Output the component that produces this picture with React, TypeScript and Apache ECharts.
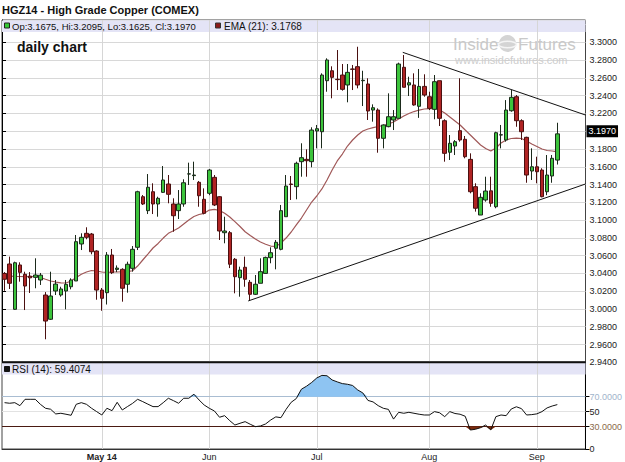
import React, { useEffect, useRef } from 'react';
import * as echarts from 'echarts';

// ---------- data ----------
const opens = [
  3.0400, 3.0506, 2.9996, 3.0495, 3.0390, 3.0370, 3.0356, 3.0326, 3.0157, 2.9884,
  3.0202, 3.0157, 3.0202, 3.0250, 3.0315, 3.0731, 3.0851, 3.0843, 3.0652, 3.0213,
  3.0183, 3.0607, 3.0445, 3.0446, 3.0278, 3.0457, 3.0694, 3.1263, 3.1106, 3.1319,
  3.1181, 3.1312, 3.1406, 3.1181, 3.1106, 3.1181, 3.1518, 3.1500, 3.1425, 3.1234,
  3.1301, 3.1481, 3.1263, 3.0858, 3.0858, 3.0559, 3.0352, 3.0469, 3.0300, 3.0165,
  3.0289, 3.0400, 3.0577, 3.0683, 3.0671, 3.1038, 3.1406, 3.1376, 3.1657, 3.1683,
  3.1657, 3.2002, 3.1994, 3.2568, 3.2680, 3.2584, 3.2632, 3.2520, 3.2700, 3.2726,
  3.2568, 3.2531, 3.2238, 3.2238, 3.1920, 3.2051, 3.2126, 3.2145, 3.2719, 3.2520,
  3.2520, 3.2280, 3.2504, 3.2388, 3.2246, 3.2568, 3.2118, 3.1763, 3.1833, 3.2006,
  3.1909, 3.1683, 3.1376, 3.1057, 3.1226, 3.1329, 3.1150, 3.1957, 3.1901, 3.2230,
  3.2388, 3.2118, 3.1931, 3.1552, 3.1600, 3.1563, 3.1319, 3.1496, 3.1675,
];
const highs = [
  3.0415, 3.0589, 3.0532, 3.0525, 3.0419, 3.0415, 3.0570, 3.0405, 3.0190, 3.0419,
  3.0326, 3.0250, 3.0326, 3.0345, 3.0832, 3.0851, 3.0919, 3.0855, 3.0660, 3.0236,
  3.0640, 3.0675, 3.0490, 3.0458, 3.0532, 3.0708, 3.1330, 3.1282, 3.1518, 3.1414,
  3.1263, 3.1608, 3.1507, 3.1245, 3.1338, 3.1459, 3.1646, 3.1657, 3.1440, 3.1357,
  3.1575, 3.1507, 3.1270, 3.1038, 3.0877, 3.0573, 3.0476, 3.0589, 3.0326, 3.0382,
  3.0570, 3.0589, 3.0694, 3.0776, 3.1170, 3.1507, 3.1496, 3.1657, 3.1864, 3.1796,
  3.2044, 3.2070, 3.2651, 3.2820, 3.2730, 3.2913, 3.2756, 3.2756, 3.2745, 3.2950,
  3.2680, 3.2595, 3.2302, 3.2257, 3.2077, 3.2426, 3.2238, 3.2771, 3.2857, 3.2613,
  3.2651, 3.2700, 3.2640, 3.2444, 3.2632, 3.2568, 3.2134, 3.1957, 3.1900, 3.2595,
  3.1946, 3.1751, 3.1414, 3.1301, 3.1488, 3.1488, 3.1994, 3.2070, 3.2350, 3.2463,
  3.2407, 3.2134, 3.1938, 3.1807, 3.1713, 3.1583, 3.1732, 3.1732, 3.2095,
];
const lows = [
  3.0205, 3.0225, 2.9990, 3.0307, 2.9988, 3.0180, 3.0233, 3.0270, 2.9659, 2.9876,
  3.0157, 3.0138, 2.9996, 3.0221, 3.0315, 3.0663, 3.0784, 3.0615, 3.0104, 2.9980,
  3.0050, 3.0393, 3.0415, 3.0082, 3.0183, 3.0420, 3.0663, 3.1170, 3.1068, 3.1068,
  3.1038, 3.1305, 3.1189, 3.0869, 3.1012, 3.1150, 3.1395, 3.1451, 3.1150, 3.1065,
  3.1280, 3.1158, 3.0776, 3.0739, 3.0460, 3.0176, 3.0138, 3.0250, 3.0093, 3.0157,
  3.0289, 3.0400, 3.0514, 3.0446, 3.0660, 3.1038, 3.1226, 3.1234, 3.1488, 3.1488,
  3.1594, 3.1807, 3.1807, 3.2444, 3.2370, 3.2463, 3.2456, 3.2325, 3.2463, 3.2482,
  3.2283, 3.2126, 3.2107, 3.1758, 3.1807, 3.2044, 3.2013, 3.2145, 3.2494, 3.2396,
  3.2287, 3.2150, 3.2388, 3.2238, 3.2134, 3.2058, 3.1657, 3.1676, 3.1732, 3.1882,
  3.1695, 3.1301, 3.1095, 3.1057, 3.1207, 3.1150, 3.1133, 3.1807, 3.1882, 3.2219,
  3.2050, 3.1901, 3.1420, 3.1451, 3.1414, 3.1256, 3.1280, 3.1420, 3.1625,
];
const closes = [
  3.0334, 3.0289, 3.0520, 3.0412, 3.0258, 3.0350, 3.0382, 3.0380, 2.9864, 3.0146,
  3.0280, 3.0225, 3.0277, 3.0326, 3.0757, 3.0806, 3.0806, 3.0644, 3.0213, 3.0120,
  3.0607, 3.0408, 3.0460, 3.0233, 3.0503, 3.0671, 3.1319, 3.1181, 3.1369, 3.1181,
  3.1245, 3.1451, 3.1290, 3.1049, 3.1181, 3.1420, 3.1520, 3.1507, 3.1274, 3.1076,
  3.1563, 3.1170, 3.0877, 3.0877, 3.0503, 3.0363, 3.0438, 3.0334, 3.0165, 3.0278,
  3.0420, 3.0580, 3.0633, 3.0750, 3.1106, 3.1383, 3.1400, 3.1639, 3.1702, 3.1668,
  3.2013, 3.2028, 3.2632, 3.2801, 3.2606, 3.2580, 3.2471, 3.2662, 3.2696, 3.2520,
  3.2573, 3.2227, 3.2264, 3.1920, 3.2070, 3.2163, 3.2163, 3.2756, 3.2494, 3.2545,
  3.2295, 3.2504, 3.2407, 3.2257, 3.2557, 3.2145, 3.1751, 3.1864, 3.1882, 3.1901,
  3.1713, 3.1319, 3.1133, 3.1256, 3.1327, 3.1189, 3.1983, 3.1960, 3.2238, 3.2381,
  3.2118, 3.1994, 3.1507, 3.1600, 3.1544, 3.1263, 3.1507, 3.1695, 3.1970,
];
const ema21 = [
  3.0371, 3.0369, 3.0366, 3.0365, 3.0364, 3.0363, 3.0363, 3.0354, 3.0334, 3.0315,
  3.0303, 3.0294, 3.0292, 3.0315, 3.0354, 3.0390, 3.0416, 3.0433, 3.0427, 3.0416,
  3.0410, 3.0416, 3.0416, 3.0419, 3.0421, 3.0430, 3.0483, 3.0551, 3.0618, 3.0686,
  3.0737, 3.0798, 3.0851, 3.0881, 3.0911, 3.0956, 3.1001, 3.1040, 3.1063, 3.1076,
  3.1113, 3.1121, 3.1108, 3.1076, 3.1035, 3.0982, 3.0928, 3.0869, 3.0827, 3.0787,
  3.0753, 3.0728, 3.0708, 3.0703, 3.0742, 3.0798, 3.0866, 3.0945, 3.1023, 3.1113,
  3.1203, 3.1271, 3.1350, 3.1451, 3.1563, 3.1665, 3.1743, 3.1833, 3.1901, 3.1957,
  3.2002, 3.2025, 3.2041, 3.2053, 3.2064, 3.2081, 3.2103, 3.2137, 3.2171, 3.2199,
  3.2221, 3.2238, 3.2250, 3.2255, 3.2255, 3.2238, 3.2205, 3.2160, 3.2115, 3.2070,
  3.2013, 3.1957, 3.1901, 3.1845, 3.1805, 3.1777, 3.1811, 3.1867, 3.1901, 3.1918,
  3.1923, 3.1918, 3.1890, 3.1856, 3.1828, 3.1800, 3.1783, 3.1777, 3.1768,
];
const rsi14 = [
  62.0, 61.2, 62.0, 58.0, 66.5, 66.5, 66.5, 59.8, 54.5, 53.2,
  46.9, 47.8, 46.5, 45.1, 59.8, 62.0, 59.8, 54.5, 50.0, 45.5,
  54.5, 51.3, 62.5, 52.2, 56.7, 61.0, 66.5, 63.4, 60.0, 56.7,
  56.7, 62.0, 67.9, 64.7, 61.2, 67.9, 67.9, 73.3, 65.6, 58.9,
  54.5, 50.9, 42.5, 44.6, 37.9, 32.1, 34.4, 36.6, 33.1, 29.9,
  30.8, 33.5, 38.8, 43.0, 41.9, 53.0, 62.5, 67.5, 80.0, 84.0,
  89.0, 95.0, 98.5, 98.0, 92.4, 89.8, 87.5, 86.6, 85.0, 79.0,
  75.0, 65.0, 63.0, 58.0, 54.5, 53.0, 40.0, 49.1, 47.8, 49.1,
  47.8, 46.5, 45.5, 45.5, 50.0, 48.5, 43.3, 50.0, 47.5, 46.5,
  43.8, 25.4, 26.4, 28.5, 32.1, 25.5, 43.3, 45.5, 44.6, 53.5,
  56.5, 54.0, 45.5, 46.0, 47.0, 50.0, 55.0, 57.5, 59.4,
];
// trend lines: [slot position, price]
const upperTrend = [[78.3, 3.2887], [114, 3.2182]];
const lowerTrend = [[48.1, 3.009], [114, 3.1406]];
const monthLabels: Record<string, string> = {
  '2014-05': 'May 14', '2014-06': 'Jun', '2014-07': 'Jul', '2014-08': 'Aug', '2014-09': 'Sep',
};
const holidays = ['2014-04-18', '2014-05-26', '2014-07-04', '2014-09-01'];
const firstDate = [2014, 3, 3];
const futureSlots = 5;
const rsiTicks = [0, 30, 50, 70, 100];
const rsiOver = 70;
const rsiUnder = 30;

const FONT = '"Liberation Sans", Arial, Helvetica, sans-serif';

function buildDates(n: number): string[] {
  const out: string[] = [];
  const d = new Date(Date.UTC(firstDate[0], firstDate[1], firstDate[2]));
  while (out.length < n) {
    const wd = d.getUTCDay();
    const s = d.toISOString().slice(0, 10);
    if (wd !== 0 && wd !== 6 && !holidays.includes(s)) out.push(s);
    d.setUTCDate(d.getUTCDate() + 1);
  }
  return out;
}

function buildOption() {
  const nData = opens.length;
  const nSlots = nData + futureSlots;
  const dates = buildDates(nSlots);
  const monthStarts: number[] = [];
  for (let i = 1; i < nData; i++) {
    if (dates[i].slice(0, 7) !== dates[i - 1].slice(0, 7)) monthStarts.push(i);
  }
  const startSet = new Set(monthStarts);
  const candles = opens.map((o, i) => [o, closes[i], lows[i], highs[i]]);
  const last = closes[nData - 1];

  const L = 2, R = 39.5;
  const mainTop = 20, mainH = 342.3, rsiTop = 362.3, rsiH = 86.7;

  const vLine = (i: number) => ({ xAxis: dates[i] });

  return {
    animation: false,
    backgroundColor: '#ffffff',
    textStyle: { fontFamily: FONT },
    grid: [
      { left: L, right: R, top: mainTop, height: mainH, show: true, borderColor: '#444', borderWidth: 1, backgroundColor: 'transparent' },
      { left: L, right: R, top: rsiTop, height: rsiH, show: true, borderColor: '#444', borderWidth: 1, backgroundColor: 'transparent' },
    ],
    xAxis: [
      { type: 'category', gridIndex: 0, data: dates, boundaryGap: true, axisLine: { show: false }, axisTick: { show: false }, axisLabel: { show: false }, splitLine: { show: false } },
      { type: 'value', gridIndex: 0, min: 0, max: nSlots, show: false },
      {
        type: 'category', gridIndex: 1, data: dates, boundaryGap: true,
        axisLine: { show: true, lineStyle: { color: '#333', width: 1 } },
        axisTick: { show: false },
        splitLine: { show: false },
        axisLabel: {
          interval: (idx: number) => startSet.has(idx),
          formatter: (v: string) => {
            const lab = monthLabels[v.slice(0, 7)] || '';
            return lab.indexOf(' ') > 0 ? '{b|' + lab + '}' : lab;
          },
          fontSize: 9, color: '#222', margin: 3, fontFamily: FONT,
          rich: { b: { fontWeight: 'bold', fontSize: 9, fontFamily: FONT, color: '#222' } },
        },
      },
    ],
    yAxis: [
      {
        type: 'value', gridIndex: 0, position: 'right', min: 2.94, max: 3.3251, interval: 0.02,
        axisLine: { show: true, lineStyle: { color: '#000', width: 1 } },
        axisTick: { show: true, length: 4, lineStyle: { color: '#000' } },
        axisLabel: {
          formatter: (v: number) => (v > 3.31 ? '' : v.toFixed(4)),
          fontSize: 9, color: '#222', margin: 4, fontFamily: FONT, showMaxLabel: false,
        },
        splitLine: { show: true, lineStyle: { color: '#d8d8d8', width: 1 } },
      },
      {
        type: 'value', gridIndex: 1, position: 'right', min: 0, max: 116, interval: 10,
        axisLine: { show: true, lineStyle: { color: '#000', width: 1 } },
        axisTick: { show: true, length: 4, customValues: rsiTicks, lineStyle: { color: '#000' } },
        axisLabel: {
          customValues: rsiTicks,
          showMaxLabel: false,
          formatter: (v: number) => {
            if (v === rsiOver) return '{a|' + v.toFixed(4) + '}';
            if (v === rsiUnder) return '{b|' + v.toFixed(4) + '}';
            return rsiTicks.includes(v) ? String(v) : '';
          },
          fontSize: 9, color: '#222', margin: 4, fontFamily: FONT,
          rich: {
            a: { color: '#9fb4cb', fontSize: 9, fontFamily: FONT },
            b: { color: '#8a6a4a', fontSize: 9, fontFamily: FONT },
          },
        },
        splitLine: { show: false },
      },
    ],
    series: [
      {
        type: 'candlestick', name: 'HGZ14', xAxisIndex: 0, yAxisIndex: 0, data: candles, barWidth: 4, z: 3,
        itemStyle: { color: '#3cc43c', color0: '#b02424', borderColor: '#1b2a1b', borderColor0: '#4a1010', borderWidth: 1 },
        markLine: {
          silent: true, symbol: ['none', 'none'], z: 8,
          lineStyle: { color: 'rgba(0,0,0,0)', width: 0 },
          data: [{
            yAxis: last,
            lineStyle: { color: 'rgba(0,0,0,0)', width: 0 },
            label: { show: true, opacity: 1, position: 'end', distance: 1, formatter: last.toFixed(4), backgroundColor: '#000', color: '#fff', fontSize: 9, fontFamily: FONT, padding: [2, 2, 1, 2] },
          }],
        },
      },
      {
        type: 'line', name: 'EMA (21)', xAxisIndex: 0, yAxisIndex: 0, data: ema21, symbol: 'none', z: 2,
        lineStyle: { color: '#a05858', width: 1.2 },
        markLine: {
          silent: true, symbol: ['none', 'none'], z: 1.5, label: { show: false },
          lineStyle: { color: '#d6d6d6', width: 1, type: 'solid' },
          data: monthStarts.map(vLine),
        },
      },
      { type: 'line', xAxisIndex: 1, yAxisIndex: 0, data: upperTrend, symbol: 'none', silent: true, z: 4, lineStyle: { color: '#111', width: 1 } },
      { type: 'line', xAxisIndex: 1, yAxisIndex: 0, data: lowerTrend, symbol: 'none', silent: true, z: 4, lineStyle: { color: '#111', width: 1 } },
      // RSI overbought fill (stacked above the 70 level)
      { type: 'line', xAxisIndex: 2, yAxisIndex: 1, stack: 'hi', data: rsi14.map(() => rsiOver), symbol: 'none', silent: true, z: 2, lineStyle: { width: 0, opacity: 0 } },
      { type: 'line', xAxisIndex: 2, yAxisIndex: 1, stack: 'hi', data: rsi14.map((v) => Math.max(v - rsiOver, 0)), symbol: 'none', silent: true, z: 2, lineStyle: { width: 0, opacity: 0 }, areaStyle: { color: '#8ec4f2', opacity: 1 } },
      // RSI oversold fill
      { type: 'line', xAxisIndex: 2, yAxisIndex: 1, stack: 'lo', data: rsi14.map((v) => Math.min(v, rsiUnder)), symbol: 'none', silent: true, z: 2, lineStyle: { width: 0, opacity: 0 } },
      { type: 'line', xAxisIndex: 2, yAxisIndex: 1, stack: 'lo', data: rsi14.map((v) => rsiUnder - Math.min(v, rsiUnder)), symbol: 'none', silent: true, z: 2, lineStyle: { width: 0, opacity: 0 }, areaStyle: { color: '#7a2a0e', opacity: 1 } },
      {
        type: 'line', name: 'RSI (14)', xAxisIndex: 2, yAxisIndex: 1, data: rsi14, symbol: 'none', z: 3,
        lineStyle: { color: '#111', width: 1 },
        markLine: {
          silent: true, symbol: ['none', 'none'], z: 1.5, label: { show: false },
          data: [
            ...monthStarts.map((i) => ({ ...vLine(i), lineStyle: { color: '#d6d6d6', width: 1, type: 'solid' } })),
            { yAxis: 50, lineStyle: { color: '#e2e2e2', width: 1, type: 'solid' } },
            { yAxis: rsiOver, lineStyle: { color: '#a9bdd2', width: 1, type: 'solid' } },
            { yAxis: rsiUnder, lineStyle: { color: '#4a1a12', width: 1.2, type: 'solid' } },
          ],
        },
      },
    ],
    graphic: [
      { type: 'rect', silent: true, z: 1, shape: { x: L, y: 20.5, width: 583.5, height: 11.5 }, style: { fill: '#e4e4f6' } },
      { type: 'rect', silent: true, z: 1, shape: { x: L, y: 362.5, width: 583.5, height: 12 }, style: { fill: '#e4e4f6' } },
      { type: 'line', silent: true, z: 10, shape: { x1: L, y1: 362.3, x2: 585.5, y2: 362.3 }, style: { stroke: '#111', lineWidth: 2 } },
      // title & legends
      { type: 'text', silent: true, z: 10, x: 2, y: 10, style: { text: 'HGZ14 - High Grade Copper (COMEX)', fontSize: 11, fontWeight: 'bold', fontFamily: FONT, fill: '#111', verticalAlign: 'middle', textVerticalAlign: 'middle' } },
      { type: 'rect', silent: true, z: 10, shape: { x: 4.5, y: 23, width: 5, height: 5 }, style: { fill: '#35c935', stroke: '#222', lineWidth: 1 } },
      { type: 'text', silent: true, z: 10, x: 12, y: 26.3, style: { text: 'Op:3.1675, Hi:3.2095, Lo:3.1625, Cl:3.1970', fontSize: 9.5, fontFamily: FONT, fill: '#111', verticalAlign: 'middle', textVerticalAlign: 'middle' } },
      { type: 'rect', silent: true, z: 10, shape: { x: 215.5, y: 23, width: 5, height: 5 }, style: { fill: '#8b1a1a', stroke: '#333', lineWidth: 1 } },
      { type: 'text', silent: true, z: 10, x: 224, y: 26.3, style: { text: 'EMA (21): 3.1768', fontSize: 10, fontFamily: FONT, fill: '#111', verticalAlign: 'middle', textVerticalAlign: 'middle' } },
      { type: 'text', silent: true, z: 10, x: 17, y: 46.5, style: { text: 'daily chart', fontSize: 14, fontWeight: 'bold', fontFamily: FONT, fill: '#111', verticalAlign: 'middle', textVerticalAlign: 'middle' } },
      { type: 'rect', silent: true, z: 10, shape: { x: 4.5, y: 366.5, width: 5, height: 5 }, style: { fill: '#111', stroke: '#111', lineWidth: 1 } },
      { type: 'text', silent: true, z: 10, x: 12, y: 369.3, style: { text: 'RSI (14): 59.4074', fontSize: 10, fontFamily: FONT, fill: '#111', verticalAlign: 'middle', textVerticalAlign: 'middle' } },
      // watermark
      { type: 'text', silent: true, z: 1.2, x: 453, y: 44, style: { text: 'Inside', fontSize: 17, fontFamily: FONT, fill: '#c9c9c9', verticalAlign: 'middle', textVerticalAlign: 'middle' } },
      { type: 'circle', silent: true, z: 1.2, shape: { cx: 507.5, cy: 43.5, r: 8.5 }, style: { fill: '#d4d4d4' } },
      { type: 'ellipse', silent: true, z: 1.3, shape: { cx: 507.5, cy: 44.5, rx: 9, ry: 3.2 }, style: { fill: 'none', stroke: '#f4f4f4', lineWidth: 1.5 } },
      { type: 'text', silent: true, z: 1.2, x: 518, y: 44, style: { text: 'Futures', fontSize: 17, fontFamily: FONT, fill: '#c9c9c9', verticalAlign: 'middle', textVerticalAlign: 'middle' } },
      { type: 'text', silent: true, z: 1.2, x: 455, y: 59.5, style: { text: 'www.insidefutures.com', fontSize: 11, fontFamily: FONT, fill: '#cdcdcd', verticalAlign: 'middle', textVerticalAlign: 'middle' } },
    ],
  };
}

export default function App() {
  const ref = useRef<HTMLDivElement>(null);
  useEffect(() => {
    if (!ref.current) return;
    const chart = echarts.init(ref.current, null, { renderer: 'svg' });
    chart.setOption(buildOption() as any);
    return () => chart.dispose();
  }, []);
  return (
    <div
      ref={ref}
      style={{ position: 'absolute', left: 0, top: 0, width: 625, height: 462, background: '#fff' }}
    />
  );
}
